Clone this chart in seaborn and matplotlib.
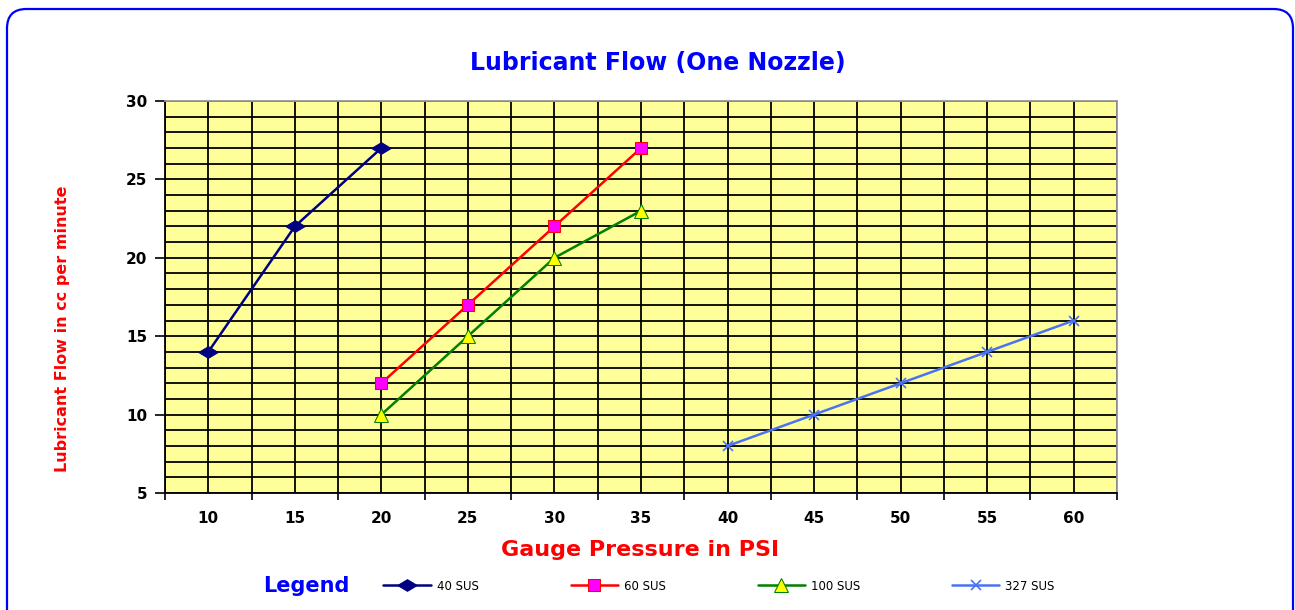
import matplotlib
matplotlib.use('Agg')
import matplotlib.pyplot as plt
from matplotlib.patches import FancyBboxPatch
from matplotlib.path import Path
import seaborn as sns
import pandas as pd
import numpy as np

# values
psi_40 = [10, 15, 20]
flow_40 = [14, 22, 27]
psi_60 = [20, 25, 30, 35]
flow_60 = [12, 17, 22, 27]
psi_100 = [20, 25, 30, 35]
flow_100 = [10, 15, 20, 23]
psi_327 = [40, 45, 50, 55, 60]
flow_327 = [8, 10, 12, 14, 16]
pressure_ticks = [10, 15, 20, 25, 30, 35, 40, 45, 50, 55, 60]

# flat diamond like the excel marker
flat_diamond = Path([(-1, 0), (0, 0.6), (1, 0), (0, -0.6), (-1, 0)],
                    [Path.MOVETO, Path.LINETO, Path.LINETO, Path.LINETO, Path.CLOSEPOLY])

series = [
    ('40 SUS', psi_40, flow_40, dict(color='#000080', marker=flat_diamond, markersize=14,
                                     markerfacecolor='#000080', markeredgecolor='#000080')),
    ('60 SUS', psi_60, flow_60, dict(color='#FF0000', marker='s', markersize=9,
                                     markerfacecolor='#FF00FF', markeredgecolor='#FF0000')),
    ('100 SUS', psi_100, flow_100, dict(color='#008000', marker='^', markersize=10,
                                        markerfacecolor='#FFFF00', markeredgecolor='#008000')),
    ('327 SUS', psi_327, flow_327, dict(color='#4A72F5', marker='x', markersize=7,
                                        markeredgecolor='#4A72F5', markeredgewidth=1.2)),
]

sns.set_style('white')
plt.rcParams['font.family'] = ['DejaVu Sans']

fig = plt.figure(figsize=(12.95, 6.10), dpi=100)
ax = fig.add_axes([165 / 1295, 117 / 610, 952 / 1295, 392 / 610])
ax.set_facecolor('#FFFF99')

for name, xs, ys, style in series:
    df = pd.DataFrame({'psi': xs, 'flow': ys})
    sns.lineplot(data=df, x='psi', y='flow', ax=ax, label=name, linewidth=1.8, **style)

ax.set_xlim(7.5, 62.5)
ax.set_ylim(5, 30)

# tick marks on category boundaries, labels on category centres
bounds = np.arange(7.5, 62.6, 5)
ax.set_xticks(bounds)
ax.set_xticklabels([''] * len(bounds))
ax.set_xticks(pressure_ticks, minor=True)
ax.set_xticklabels([str(p) for p in pressure_ticks], minor=True)
ax.tick_params(axis='x', which='major', direction='out', length=5, width=1.2, color='black', bottom=True)
ax.tick_params(axis='x', which='minor', length=0, pad=13, labelsize=11, labelcolor='black')

ax.set_yticks(range(5, 31, 5))
ax.set_yticks(range(5, 31), minor=True)
ax.tick_params(axis='y', which='major', direction='out', length=7, width=1.2, color='black', left=True,
               labelsize=11, labelcolor='black', pad=6)
ax.tick_params(axis='y', which='minor', length=0)
for lab in ax.get_xticklabels(minor=True) + ax.get_yticklabels():
    lab.set_fontweight('bold')

ax.grid(True, which='both', color='black', linewidth=1.3)
ax.set_axisbelow(True)

for side in ['left', 'bottom']:
    ax.spines[side].set_color('black')
    ax.spines[side].set_linewidth(1.3)
for side in ['top', 'right']:
    ax.spines[side].set_color('#999999')
    ax.spines[side].set_linewidth(1.3)

ax.set_xlabel('')
ax.set_ylabel('')

fig.text(658 / 1295, 1 - 63 / 610, 'Lubricant Flow (One Nozzle)', color='#0000FF',
         fontsize=17, fontweight='bold', ha='center', va='center')
fig.text(640 / 1295, 1 - 550 / 610, 'Gauge Pressure in PSI', color='#FF0000',
         fontsize=16, fontweight='bold', ha='center', va='center')
fig.text(63 / 1295, 1 - 329 / 610, 'Lubricant Flow in cc per minute', color='#FF0000',
         fontsize=11.5, fontweight='bold', ha='center', va='center', rotation=90)
fig.text(306 / 1295, 1 - 586 / 610, 'Legend', color='#0000FF',
         fontsize=15, fontweight='bold', ha='center', va='center')

handles, labels = ax.get_legend_handles_labels()
ax.get_legend().remove()
leg = fig.legend(handles, labels, loc='center', bbox_to_anchor=(719 / 1295, 1 - 586 / 610),
                 ncol=4, frameon=False, fontsize=8.5, handlelength=4.0, columnspacing=7.8,
                 handletextpad=0.5)
for t in leg.get_texts():
    t.set_color('black')

border = FancyBboxPatch((7 / 1295, -0.05), 1286 / 1295, 0.05 + (610 - 9) / 610,
                        boxstyle='round,pad=0,rounding_size=0.015', transform=fig.transFigure,
                        facecolor='none', edgecolor='#0000FF', linewidth=1.6, mutation_aspect=1295 / 610)
fig.patches.append(border)

fig.savefig('out.png', dpi=100)
